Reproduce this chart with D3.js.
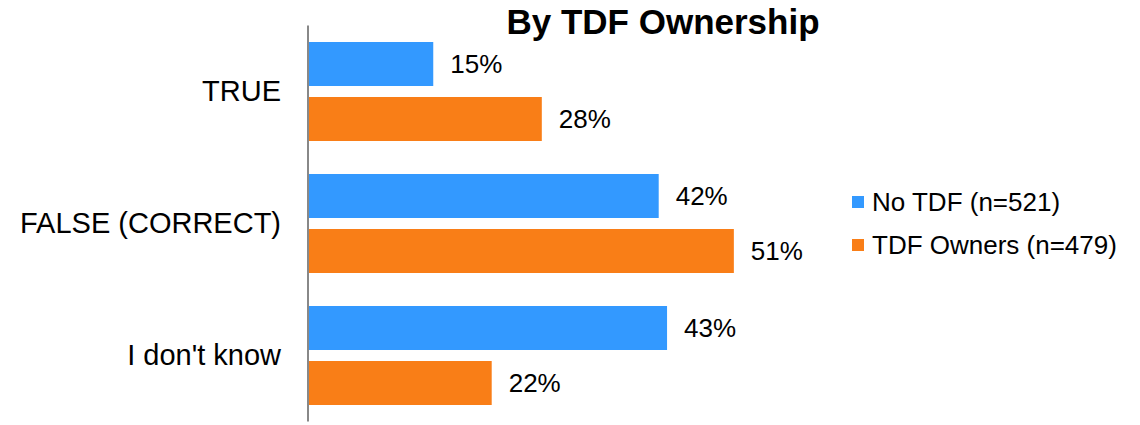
<!DOCTYPE html>
<html>
<head>
<meta charset="utf-8">
<script src="https://cdn.jsdelivr.net/npm/d3@7"></script>
<style>
  body { margin: 0; background: #fff; }
  text { font-family: "Liberation Sans", Arial, sans-serif; fill: #000; }
  .y.axis path { stroke: #888; stroke-width: 2; }
</style>
</head>
<body>
<div id="chart"></div>
<script>
'use strict';

const title = 'By TDF Ownership';
const categories = ['TRUE', 'FALSE (CORRECT)', "I don't know"];
const seriesNames = ['No TDF (n=521)', 'TDF Owners (n=479)'];
const seriesColors = ['#3399ff', '#f97e17'];
const noTdf = [0.15, 0.42, 0.43];
const tdfOwners = [0.28, 0.51, 0.22];

const W = 1140, H = 425;
const margins = { top: 25.5, left: 308, height: 396, width: 501 };

const rows = categories.map((c, i) => ({ cat: c, values: [noTdf[i], tdfOwners[i]] }));

const svg = d3.select('#chart').append('svg')
    .attr('width', W)
    .attr('height', H);

const g = svg.append('g').attr('transform', `translate(${margins.left},${margins.top})`);

let y = d3.scaleBand()
    .domain(categories)
    .range([0, margins.height])
    .paddingInner(0.25)
    .paddingOuter(0.125);
let y1 = d3.scaleBand()
    .domain([0, 1])
    .range([0, y.bandwidth()])
    .paddingInner(0.2);
let x = d3.scaleLinear()
    .domain([0, 0.6])
    .range([0, margins.width]);

// bars
let groups = g.selectAll('.grp').data(rows)
    .enter().append('g')
    .attr('class', 'grp')
    .attr('transform', d => `translate(0,${y(d.cat)})`);

groups.selectAll('rect').data(d => d.values)
    .enter().append('rect')
    .attr('x', 0)
    .attr('y', (d, i) => y1(i))
    .attr('width', d => x(d))
    .attr('height', y1.bandwidth())
    .attr('fill', (d, i) => seriesColors[i]);

groups.selectAll('.val').data(d => d.values)
    .enter().append('text')
    .attr('class', 'val')
    .attr('x', d => x(d) + 17)
    .attr('y', (d, i) => y1(i) + y1.bandwidth() / 2)
    .attr('dy', '0.36em')
    .style('font-size', '26px')
    .text(d => d3.format('.0%')(d));

// y axis line + category labels
let yAxis = d3.axisLeft(y).tickSize(0).tickPadding(27);
let ax = g.append('g').attr('class', 'y axis').call(yAxis);
ax.select('.domain').attr('d', `M0,0V${margins.height}`);
ax.selectAll('text')
    .style('font-size', '29px')
    .style('font-family', '"Liberation Sans", Arial, sans-serif')
    .attr('fill', '#000');

// title
svg.append('text')
    .attr('x', 663)
    .attr('y', 34)
    .attr('text-anchor', 'middle')
    .style('font-size', '35px')
    .style('font-weight', 'bold')
    .text(title);

// legend
let legend = svg.append('g').attr('transform', 'translate(852,202)');
let items = legend.selectAll('g').data(seriesNames)
    .enter().append('g')
    .attr('transform', (d, i) => `translate(0,${i * 43})`);
items.append('rect')
    .attr('x', 0).attr('y', -6)
    .attr('width', 12).attr('height', 12)
    .attr('fill', (d, i) => seriesColors[i]);
items.append('text')
    .attr('x', 20)
    .attr('dy', '0.36em')
    .style('font-size', '26px')
    .text(d => d);
</script>
</body>
</html>
